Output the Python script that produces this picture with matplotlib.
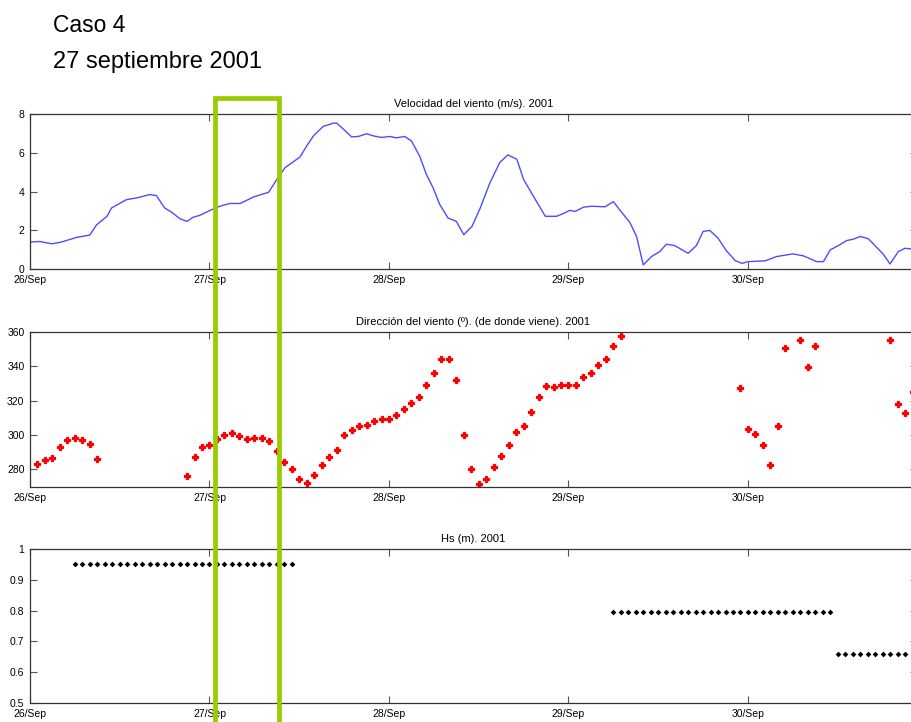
import matplotlib
matplotlib.use('Agg')
import matplotlib.pyplot as plt
from matplotlib.patches import Rectangle

plt.rcParams['font.family'] = ['Liberation Sans', 'DejaVu Sans']

# hours counted from 26/Sep 00:00
day_ticks = [0, 24, 48, 72, 96]
day_labels = ['26/Sep', '27/Sep', '28/Sep', '29/Sep', '30/Sep']

# wind speed (m/s)
t_vel = [0, 1.3, 2.9, 4.2, 6.2, 8.0, 8.9, 10.3, 10.9, 12.9, 14.3, 16.0, 16.9, 18.0,
         18.9, 20.1, 21.0, 21.8, 22.7, 24.1, 25.4, 26.7, 28.1, 29.9, 31.9, 33.0,
         34.1, 36.1, 37.0, 37.9, 39.2, 40.6, 41.0, 41.9, 43.0, 43.9, 45.0, 45.9,
         47.0, 48.1, 49.0, 50.1, 51.0, 52.1, 53.0, 53.9, 54.8, 55.9, 57.0, 58.0,
         59.1, 60.2, 61.5, 62.8, 63.9, 65.1, 66.0, 67.3, 68.9, 70.4, 71.3, 72.2,
         72.9, 74.0, 75.1, 76.9, 78.0, 79.1, 80.2, 81.1, 82.0, 83.1, 84.2, 85.1,
         86.2, 88.0, 89.1, 90.0, 90.9, 92.0, 93.1, 94.3, 95.2, 96.0, 98.3, 99.8,
         102.0, 103.4, 105.2, 106.1, 107.0, 108.1, 109.2, 110.1, 111.0, 112.1,
         114.1, 115.0, 116.1, 117.0, 117.9, 119.0]
vel = [1.39, 1.42, 1.30, 1.39, 1.63, 1.75, 2.28, 2.72, 3.15, 3.58, 3.67, 3.84, 3.79,
       3.15, 2.94, 2.58, 2.46, 2.67, 2.77, 3.03, 3.24, 3.38, 3.38, 3.72, 3.96, 4.62,
       5.23, 5.78, 6.35, 6.87, 7.36, 7.53, 7.53, 7.22, 6.82, 6.84, 6.98, 6.87, 6.79,
       6.84, 6.77, 6.84, 6.61, 5.83, 4.88, 4.19, 3.32, 2.63, 2.46, 1.77, 2.20, 3.15,
       4.45, 5.49, 5.89, 5.66, 4.62, 3.76, 2.72, 2.72, 2.86, 3.03, 2.97, 3.19, 3.24,
       3.21, 3.48, 2.93, 2.41, 1.68, 0.21, 0.64, 0.90, 1.28, 1.21, 0.81, 1.21, 1.94,
       1.99, 1.59, 0.95, 0.43, 0.29, 0.38, 0.42, 0.64, 0.78, 0.68, 0.38, 0.38, 0.99,
       1.21, 1.47, 1.54, 1.68, 1.56, 0.76, 0.26, 0.90, 1.07, 1.03, 1.00]

# wind direction (deg, where it comes from)
t_dir = [1, 2, 3, 4, 5, 6, 7, 8, 9,
         21, 22, 23, 24, 25, 26, 27, 28, 29, 30, 31, 32, 33, 34, 35, 36, 37, 38,
         39, 40, 41, 42, 43, 44, 45, 46, 47, 48, 49, 50, 51, 52, 53, 54, 55, 56,
         57, 58, 59, 60, 61, 62, 63, 64, 65, 66, 67, 68, 69, 70, 71, 72, 73, 74,
         75, 76, 77, 78, 79,
         95, 96, 97, 98, 99, 100, 101, 103, 104, 105,
         115, 116, 117, 118]
direc = [282.7, 285.1, 286.4, 292.7, 296.8, 297.9, 296.8, 294.4, 285.7,
         275.9, 287.0, 292.8, 294.2, 297.3, 299.7, 300.8, 299.1, 297.3, 298.1,
         298.1, 296.6, 290.3, 283.9, 279.8, 274.0, 271.6, 276.5, 282.2, 287.0,
         290.9, 299.7, 302.8, 304.9, 305.5, 307.9, 309.0, 309.0, 311.4, 314.9,
         318.4, 321.9, 328.9, 335.9, 344.1, 344.1, 331.8, 299.7, 279.8, 271.2,
         274.0, 281.0, 287.4, 293.8, 301.8, 304.9, 313.1, 321.9, 328.3, 327.7,
         328.9, 328.9, 328.9, 333.5, 335.9, 340.5, 344.1, 351.6, 357.6,
         327.1, 303.4, 300.2, 293.8, 282.2, 304.9, 350.5, 355.2, 339.4, 351.6,
         355.2, 317.8, 312.5, 324.8]

# significant wave height (m)
t_hs = [6, 7, 8, 9, 10, 11, 12, 13, 14, 15, 16, 17, 18, 19, 20, 21, 22, 23, 24, 25,
        26, 27, 28, 29, 30, 31, 32, 33, 34, 35,
        78, 79, 80, 81, 82, 83, 84, 85, 86, 87, 88, 89, 90, 91, 92, 93, 94, 95,
        96, 97, 98, 99, 100, 101, 102, 103, 104, 105, 106, 107,
        108, 109, 110, 111, 112, 113, 114, 115, 116, 117, 118]
hs = [0.951, 0.951, 0.951, 0.951, 0.951, 0.951, 0.951, 0.951, 0.951, 0.951,
      0.951, 0.951, 0.951, 0.951, 0.951, 0.951, 0.951, 0.951, 0.951, 0.951,
      0.951, 0.951, 0.951, 0.951, 0.951, 0.951, 0.951, 0.951, 0.951, 0.951,
      0.795, 0.795, 0.795, 0.795, 0.795, 0.795, 0.795, 0.795, 0.795, 0.795,
      0.795, 0.795, 0.795, 0.795, 0.795, 0.795, 0.795, 0.795, 0.795, 0.795,
      0.795, 0.795, 0.795, 0.795, 0.795, 0.795, 0.795, 0.795, 0.795, 0.795,
      0.66, 0.66, 0.66, 0.66, 0.66, 0.66, 0.66, 0.66, 0.66, 0.66, 0.66]

W, H = 912, 722
fig = plt.figure(figsize=(W / 100, H / 100), dpi=100)


def px_axes(top, bottom, left=30, right=917):
    return fig.add_axes([left / W, (H - bottom) / H, (right - left) / W, (bottom - top) / H])


def style(ax, title):
    ax.set_xlim(0, 118.6)
    ax.set_xticks(day_ticks)
    ax.set_xticklabels(day_labels)
    ax.tick_params(direction='in', length=5, width=0.8, color='#555555',
                   top=True, right=True, labelsize=7.5, pad=4)
    for s in ax.spines.values():
        s.set_color('#333333')
        s.set_linewidth(0.9)
    ax.set_title(title, fontsize=8, pad=5)


ax1 = px_axes(114, 269)
ax1.plot(t_vel, vel, color='#4d4dff', lw=1.0)
ax1.set_ylim(0, 8)
ax1.set_yticks([0, 2, 4, 6, 8])
style(ax1, 'Velocidad del viento (m/s). 2001')

ax2 = px_axes(332, 487)
ax2.plot(t_dir, direc, 'P', color='red', ms=4.0, mew=0.9, mec='red')
ax2.set_ylim(269.5, 360)
ax2.set_yticks([280, 300, 320, 340, 360])
style(ax2, 'Dirección del viento (º). (de donde viene). 2001')

ax3 = px_axes(549, 703)
ax3.plot(t_hs, hs, 'D', color='black', ms=2.9, mew=0)
ax3.set_ylim(0.5, 1)
ax3.set_yticks([0.5, 0.6, 0.7, 0.8, 0.9, 1])
ax3.set_yticklabels(['0.5', '0.6', '0.7', '0.8', '0.9', '1'])
style(ax3, 'Hs (m). 2001')

fig.text(53 / W, (H - 32) / H, 'Caso 4', fontsize=16.5, va='baseline')
fig.text(53 / W, (H - 68) / H, '27 septiembre 2001', fontsize=17, va='baseline')

# highlighted window
box = Rectangle((215 / W, -0.05), (279 - 215) / W, (H - 98) / H + 0.05,
                transform=fig.transFigure, fill=False, edgecolor='#99cc00',
                lw=3.4, zorder=10)
fig.add_artist(box)

fig.savefig('out.png', dpi=100)
